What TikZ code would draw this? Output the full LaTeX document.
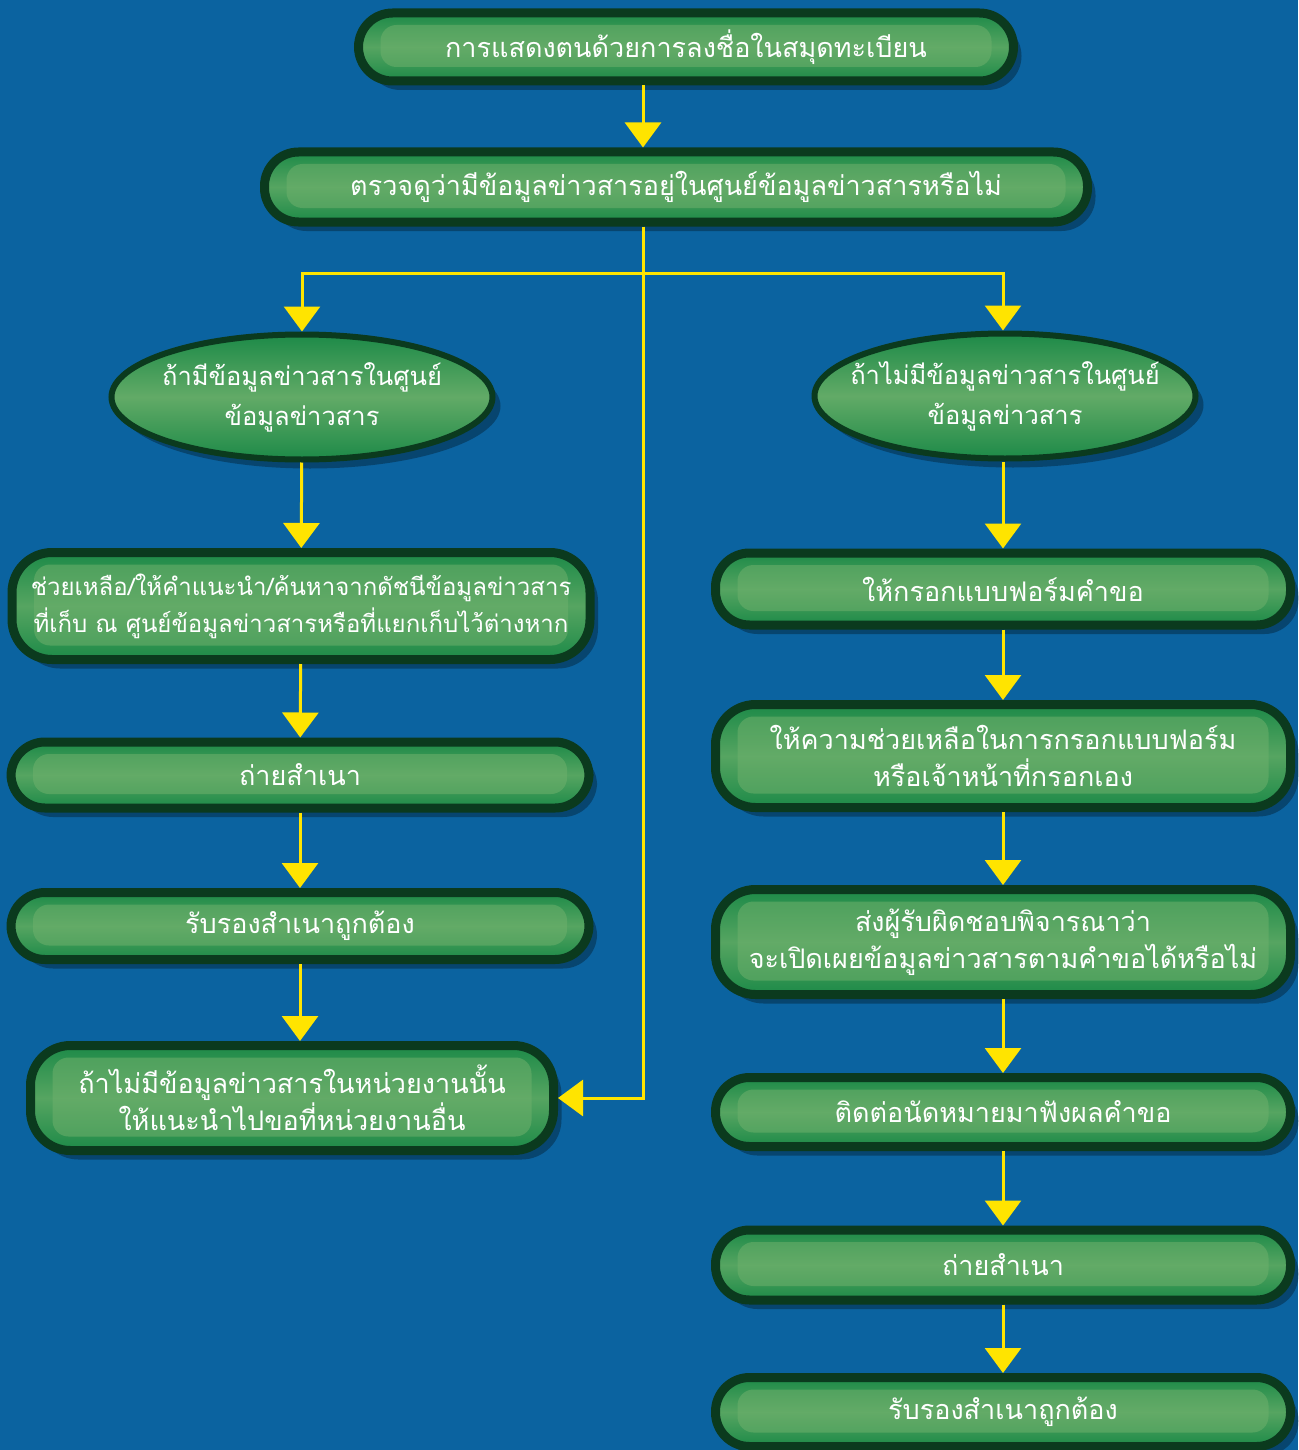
\documentclass[tikz,border=0pt]{standalone}
\usepackage{fontspec}
\usepackage{tikz}
\usetikzlibrary{calc,positioning,shapes.geometric,arrows.meta}
\newfontfamily\thaifont[Script=Thai]{Loma}
\definecolor{flowBlue}{HTML}{0B63A0}
\definecolor{flowDark}{HTML}{0B3A1E}
\definecolor{flowMid}{HTML}{1D8A48}
\definecolor{flowLight}{HTML}{6EB06C}
\definecolor{flowYellow}{HTML}{FFE400}

\begin{document}
\begin{tikzpicture}[x=1pt,y=-1pt,
  pill/.style={draw=flowDark,line width=9pt,rounded corners=34pt,
            top color=flowMid,bottom color=flowMid,middle color=flowLight!70!flowMid,
            preaction={fill=black,opacity=0.3,transform canvas={xshift=8pt,yshift=-9pt}},
            path picture={\fill[flowLight,opacity=0.55,rounded corners=16pt]
              ([shift={(22pt,-12pt)}]path picture bounding box.north west) rectangle
              ([shift={(-22pt,14pt)}]path picture bounding box.south east);},
            text=white,align=center,font=\thaifont\fontsize{27}{37}\selectfont},
  oval/.style={pill,ellipse,rounded corners=0pt,line width=6pt,inner sep=-50pt,
            path picture={},middle color=flowLight!85!flowMid,
            font=\thaifont\fontsize{25.5}{40}\selectfont},
  arr/.style={draw=flowYellow,line width=3pt,-{Triangle[width=36pt,length=25pt]}}]
  \useasboundingbox (0,0) rectangle (1298,1450);
  \fill[flowBlue] (0,0) rectangle (1298,1450);
  % top row
  \node[pill,minimum width=655,minimum height=68] (reg) at (686,47) {การแสดงตนด้วยการลงชื่อในสมุดทะเบียน};
  \node[pill,minimum width=823,minimum height=70] (chk) at (676,187) {ตรวจดูว่ามีข้อมูลข่าวสารอยู่ในศูนย์ข้อมูลข่าวสารหรือไม่};
  \node[oval,minimum width=381,minimum height=125] (have) at (302,397) {ถ้ามีข้อมูลข่าวสารในศูนย์\\ข้อมูลข่าวสาร};
  \node[oval,minimum width=381,minimum height=125] (none) at (1005,396) {ถ้าไม่มีข้อมูลข่าวสารในศูนย์\\ข้อมูลข่าวสาร};
  % left column
  \node[pill,minimum width=578,minimum height=107,rounded corners=40pt,
        font=\thaifont\fontsize{24}{37}\selectfont] (help) at (301,606) {ช่วยเหลือ/ให้คำแนะนำ/ค้นหาจากดัชนีข้อมูลข่าวสาร\\ที่เก็บ ณ ศูนย์ข้อมูลข่าวสารหรือที่แยกเก็บไว้ต่างหาก};
  \node[pill,minimum width=578,minimum height=66] (copyL) at (300,775) {ถ่ายสำเนา};
  \node[pill,minimum width=578,minimum height=67] (certL) at (300,926) {รับรองสำเนาถูกต้อง};
  \node[pill,minimum width=523,minimum height=105,rounded corners=40pt] (other) at (292,1098) {ถ้าไม่มีข้อมูลข่าวสารในหน่วยงานนั้น\\ให้แนะนำไปขอที่หน่วยงานอื่น};
  % right column
  \node[pill,minimum width=575,minimum height=72] (form) at (1003,589) {ให้กรอกแบบฟอร์มคำขอ};
  \node[pill,minimum width=575,minimum height=103,rounded corners=40pt] (assist) at (1003,756) {ให้ความช่วยเหลือในการกรอกแบบฟอร์ม\\หรือเจ้าหน้าที่กรอกเอง};
  \node[pill,minimum width=575,minimum height=105,rounded corners=40pt] (judge) at (1003,942) {ส่งผู้รับผิดชอบพิจารณาว่า\\จะเปิดเผยข้อมูลข่าวสารตามคำขอได้หรือไม่};
  \node[pill,minimum width=575,minimum height=69] (appt) at (1003,1112) {ติดต่อนัดหมายมาฟังผลคำขอ};
  \node[pill,minimum width=575,minimum height=70] (copyR) at (1003,1265) {ถ่ายสำเนา};
  \node[pill,minimum width=575,minimum height=69] (certR) at (1003,1412) {รับรองสำเนาถูกต้อง};
  % connectors
  \coordinate (spine) at (643,0);
  \coordinate (fork) at (643,273);
  \draw[arr] (reg.south -| spine) -- (chk.north -| spine);
  \draw[draw=flowYellow,line width=3pt] (chk.south -| spine) -- (fork);
  \draw[arr] (fork) -| (have.north);
  \draw[arr] (fork) -| (form.north |- none.north);
  \draw[arr] (fork) |- (other.east);
  \draw[arr] (have) -- (help);
  \draw[arr] (help) -- (copyL);
  \draw[arr] (copyL) -- (certL);
  \draw[arr] (certL.south) -- (certL.south |- other.north);
  \draw[arr] (none.south -| form.north) -- (form.north);
  \draw[arr] (form) -- (assist);
  \draw[arr] (assist) -- (judge);
  \draw[arr] (judge) -- (appt);
  \draw[arr] (appt) -- (copyR);
  \draw[arr] (copyR) -- (certR);
\end{tikzpicture}
\end{document}
